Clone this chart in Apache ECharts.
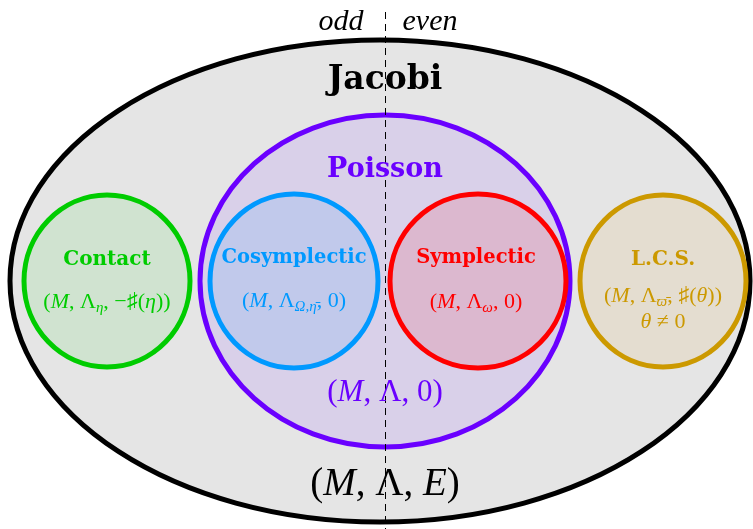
<!DOCTYPE html>
<html>
<head>
<meta charset="utf-8">
<script src="https://cdn.jsdelivr.net/npm/echarts@6/dist/echarts.min.js"></script>
<style>
  html, body { margin: 0; padding: 0; background: #fff; }
  #main { width: 753px; height: 529px; }
</style>
</head>
<body>
<div id="main"></div>
<script>
// sets (drawn as ellipses on a hidden 753 x 529 value grid)
const setNames = ['Jacobi', 'Poisson', 'Cosymplectic', 'Symplectic', 'Contact', 'L.C.S.'];
const setCx = [380, 385, 294, 478, 107, 663];
const setCy = [281, 281, 281, 281, 281, 281];
const setRx = [370, 185, 84, 88, 83, 83];
const setRy = [241, 166, 87, 87, 86, 86];

// parity divider (odd | even)
const dividerX = [385.5, 385.5];
const dividerY = [12, 529];

const strokeColors = ['#000000', '#6a00ff', '#0099ff', '#ff0000', '#00cc00', '#cc9900'];
const fillColors = ['#e5e5e5', '#d9d0e9', '#c1c9eb', '#dcb8cf', '#d0e3d0', '#e4ddd0'];

// texts
const labelText = [
  '{it|odd}', '{it|even}',
  '{b|Jacobi}', '{b|Poisson}',
  '{r|(}{i|M}{r|, Λ, 0)}',
  '{r|(}{i|M}{r|, Λ, }{i|E}{r|)}',
  '{b|Contact}', '{r|(}{i|M}{r|, Λ}{s|η}{r|, −♯(}{i|η}{r|))}',
  '{b|Cosymplectic}', '{r|(}{i|M}{r|, Λ}{s|Ω,η̄}{r|, 0)}',
  '{b|Symplectic}', '{r|(}{i|M}{r|, Λ}{s|ω}{r|, 0)}',
  '{b|L.C.S.}', '{r|(}{i|M}{r|, Λ}{s|ϖ̄}{r|, ♯(}{i|θ}{r|))}', '{i|θ}{r| ≠ 0}'
];
const labelX = [341, 430, 385, 385, 385, 385, 107, 107, 294, 294, 476, 476, 663, 663, 663];
const labelY = [22, 22, 80, 170, 393, 485, 260, 302, 258, 301, 258, 302, 260, 296, 322];
const labelSize = [30, 30, 33, 27, 31, 39, 20, 22, 19.5, 22, 19.5, 22, 20, 22, 22];
const labelColor = ['#000', '#000', '#000', '#6a00ff', '#6a00ff', '#000',
  '#00cc00', '#00cc00', '#0099ff', '#0099ff', '#ff0000', '#ff0000', '#cc9900', '#cc9900', '#cc9900'];

const serif = '"Liberation Serif", "DejaVu Serif", serif';

const chart = echarts.init(document.getElementById('main'));

function richFor(size, color) {
  return {
    b: { fontFamily: '"DejaVu Serif", serif', fontWeight: 'bold', fontSize: size, fill: color },
    it: { fontFamily: serif, fontStyle: 'italic', fontSize: size, fill: color },
    r: { fontFamily: serif, fontSize: size, fill: color },
    i: { fontFamily: serif, fontStyle: 'italic', fontSize: size, fill: color },
    s: { fontFamily: serif, fontStyle: 'italic', fontSize: Math.round(size * 0.7), fill: color,
         padding: [Math.round(size * 0.6), 0, 0, 0] }
  };
}

const option = {
  animation: false,
  grid: { left: 0, right: 0, top: 0, bottom: 0 },
  xAxis: { type: 'value', min: 0, max: 753, show: false },
  yAxis: { type: 'value', min: 0, max: 529, inverse: true, show: false },
  series: [
    {
      type: 'custom',
      coordinateSystem: 'cartesian2d',
      data: setNames.map((n, i) => [setCx[i], setCy[i], setRx[i], setRy[i]]),
      renderItem: function (params, api) {
        const i = params.dataIndex;
        const c = api.coord([api.value(0), api.value(1)]);
        const s = api.size([api.value(2), api.value(3)]);
        return {
          type: 'ellipse',
          shape: { cx: c[0], cy: c[1], rx: s[0], ry: s[1] },
          style: { fill: fillColors[i], stroke: strokeColors[i], lineWidth: 5 }
        };
      },
      z: 1
    },
    {
      type: 'line',
      data: dividerX.map((x, i) => [x, dividerY[i]]),
      symbol: 'none',
      lineStyle: { color: '#000', width: 1, type: [7, 5] },
      z: 3
    },
    {
      type: 'custom',
      coordinateSystem: 'cartesian2d',
      data: labelText.map((t, i) => [labelX[i], labelY[i]]),
      renderItem: function (params, api) {
        const i = params.dataIndex;
        const c = api.coord([api.value(0), api.value(1)]);
        return {
          type: 'text',
          x: c[0],
          y: c[1],
          style: {
            text: labelText[i],
            fill: labelColor[i],
            rich: richFor(labelSize[i], labelColor[i]),
            align: 'center',
            verticalAlign: 'middle'
          }
        };
      },
      z: 4
    }
  ]
};

chart.setOption(option);
</script>
</body>
</html>
